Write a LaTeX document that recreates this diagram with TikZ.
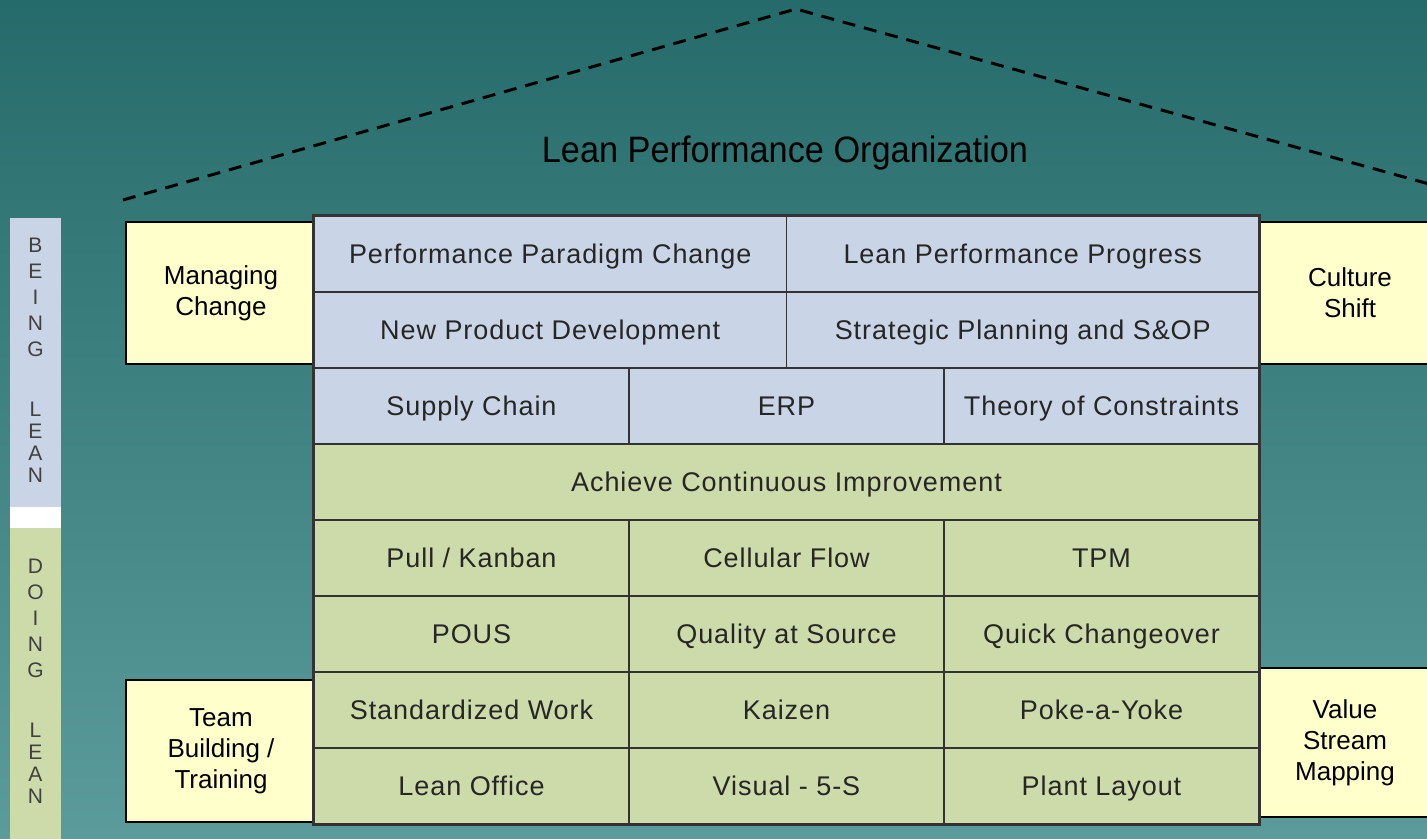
\documentclass[tikz,border=0pt]{standalone}
\usepackage{fontspec}
\setmainfont{Liberation Sans}
\newfontfamily\cellfont[LetterSpace=3.5]{Liberation Sans}
\definecolor{bgtop}{HTML}{266B6B}
\definecolor{bgbot}{HTML}{5B9B9B}
\definecolor{cellblue}{HTML}{C9D5E6}
\definecolor{cellgreen}{HTML}{CCDBA9}
\definecolor{sideyellow}{HTML}{FFFFCC}
\definecolor{gridline}{HTML}{333333}
\definecolor{celltext}{HTML}{262626}
\definecolor{bartext}{HTML}{404040}
\tikzset{
  cellbox/.style={draw=gridline, line width=1.5pt, inner sep=0pt, text=celltext,
    font=\cellfont\fontsize{27}{31}\selectfont, minimum height=76pt,
    text height=19.4pt, text depth=0pt},
  bluecell/.style={cellbox, fill=cellblue},
  greencell/.style={cellbox, fill=cellgreen},
  halfw/.style={minimum width=472.5pt},
  thirdw/.style={minimum width=315pt},
  fullw/.style={minimum width=945pt},
  sidebox/.style={draw=black, line width=1.2pt, fill=sideyellow, align=center,
    inner sep=0pt, text=black, font=\fontsize{26}{31}\selectfont},
  roof/.style={draw=black, line width=3pt, dash pattern=on 13pt off 9pt},
  barword/.style={align=center, text=bartext, inner sep=0pt,
    font=\fontsize{21}{26}\selectfont},
  barwordtight/.style={barword, font=\fontsize{21}{22}\selectfont}
}
\begin{document}
\begin{tikzpicture}[x=1pt,y=-1pt]
\useasboundingbox (0,0) rectangle (1427,838);
\clip (0,0) rectangle (1427,838);
\shade[top color=bgtop, bottom color=bgbot] (0,0) rectangle (1427,838);

% left bar
\fill[cellblue] (10,218) rectangle (61,507);
\fill[white] (10,507) rectangle (61,528);
\fill[cellgreen] (10,528) rectangle (61,845);
\node[barword] (being) at (35.5,297.5) {B\\E\\I\\N\\G};
\node[barwordtight] (lean1) at (35.5,442.5) {L\\E\\A\\N};
\node[barword] (doing) at (35.5,618) {D\\O\\I\\N\\G};
\node[barwordtight] (lean2) at (35.5,763) {L\\E\\A\\N};

% roof
\coordinate (roofL) at (123,200);
\coordinate (roofT) at (796,9);
\coordinate (roofR) at (1440,187);
\draw[roof] (roofL) -- (roofT) -- (roofR);

\node[font=\fontsize{35}{40}\selectfont, text=black] (title) at (785,153)
  {\scalebox{0.98}[1.05]{Lean Performance Organization}};

% side boxes
\node[sidebox, minimum width=190pt, minimum height=142pt] (mc) at (221,293) {Managing\\Change};
\node[sidebox, minimum width=184pt, minimum height=142pt] (cs) at (1350,293) {Culture\\Shift};
\node[sidebox, minimum width=190pt, minimum height=142pt] (tb) at (221,751) {Team\\Building /\\Training};
\node[sidebox, minimum width=174pt, minimum height=149pt] (vs) at (1345,742.5) {Value\\Stream\\Mapping};

% grid rows 1-2
\node[bluecell, halfw] (ppc) at (550.25,254) {Performance Paradigm Change};
\node[bluecell, halfw] (lpp) at (1022.75,254) {Lean Performance Progress};
\node[bluecell, halfw] (npd) at (550.25,330) {New Product Development};
\node[bluecell, halfw] (spo) at (1022.75,330) {Strategic Planning and S\&OP};
% row 3
\node[bluecell, thirdw] (sc) at (471.5,406) {Supply Chain};
\node[bluecell, thirdw] (erp) at (786.5,406) {ERP};
\node[bluecell, thirdw] (toc) at (1101.5,406) {Theory of Constraints};
% row 4
\node[greencell, fullw] (aci) at (786.5,482) {Achieve Continuous Improvement};
% rows 5-8
\node[greencell, thirdw] (pk) at (471.5,558) {Pull / Kanban};
\node[greencell, thirdw] (cf) at (786.5,558) {Cellular Flow};
\node[greencell, thirdw] (tpm) at (1101.5,558) {TPM};
\node[greencell, thirdw] (pous) at (471.5,634) {POUS};
\node[greencell, thirdw] (qas) at (786.5,634) {Quality at Source};
\node[greencell, thirdw] (qc) at (1101.5,634) {Quick Changeover};
\node[greencell, thirdw] (sw) at (471.5,710) {Standardized Work};
\node[greencell, thirdw] (kz) at (786.5,710) {Kaizen};
\node[greencell, thirdw] (pay) at (1101.5,710) {Poke-a-Yoke};
\node[greencell, thirdw] (lo) at (471.5,786) {Lean Office};
\node[greencell, thirdw] (v5s) at (786.5,786) {Visual - 5-S};
\node[greencell, thirdw] (pl) at (1101.5,786) {Plant Layout};

% outer border
\draw[gridline, line width=3pt] (ppc.north west) rectangle (pl.south east);
\end{tikzpicture}
\end{document}
